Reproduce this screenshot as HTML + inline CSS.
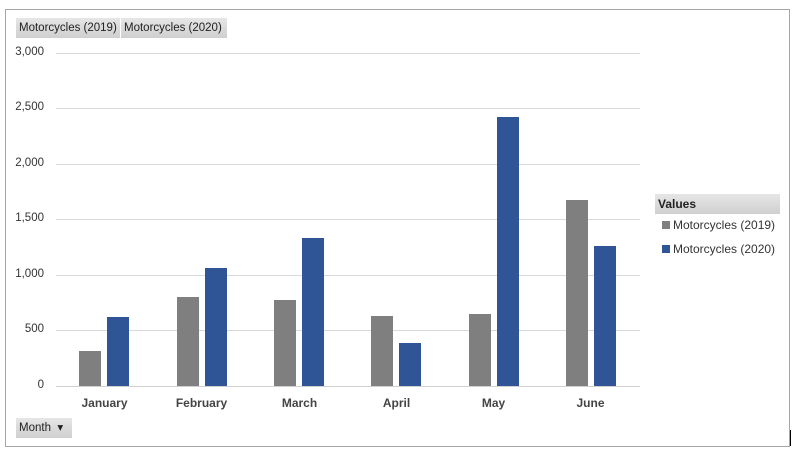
<!DOCTYPE html><html><head><style>
body{margin:0;background:#fff;width:800px;height:456px;position:relative;overflow:hidden;font-family:"Liberation Sans",sans-serif;}
.box{position:absolute;left:5px;top:9px;width:785px;height:438px;border:1px solid #a6a6a6;box-sizing:border-box;}
.btn{position:absolute;background:linear-gradient(#e6e6e6,#cfcfcf);font-size:11.5px;color:#222;height:20px;line-height:20px;padding:0 3px;box-sizing:border-box;white-space:nowrap;overflow:hidden;}
.yl{position:absolute;font-size:11.5px;color:#333;text-align:right;width:40px;left:4px;}
.g{position:absolute;left:56px;width:584px;height:1px;background:#d9d9d9;}
.b{position:absolute;width:22px;}
.c{position:absolute;top:396px;font-size:12px;font-weight:bold;color:#444;width:97px;text-align:center;}
</style></head><body>
<div class="box"></div>
<div class="btn" style="left:16px;top:18px;width:104px">Motorcycles (2019)</div>
<div class="btn" style="left:121px;top:18px;width:106px">Motorcycles (2020)</div>
<div class="yl" style="top:46px">3,000</div>
<div class="yl" style="top:101px">2,500</div>
<div class="yl" style="top:157px">2,000</div>
<div class="yl" style="top:212px">1,500</div>
<div class="yl" style="top:268px">1,000</div>
<div class="yl" style="top:323px">500</div>
<div class="yl" style="top:379px">0</div>
<div class="g" style="top:53px"></div><div class="g" style="top:108px"></div><div class="g" style="top:164px"></div>
<div class="g" style="top:219px"></div><div class="g" style="top:275px"></div><div class="g" style="top:330px"></div>
<div class="g" style="top:386px;background:#d0d0d0"></div>
<div class="b" style="left:79px;top:351px;height:35px;background:#7f7f7f"></div>
<div class="b" style="left:107px;top:317px;height:69px;background:#2f5597"></div>
<div class="b" style="left:177px;top:297px;height:89px;background:#7f7f7f"></div>
<div class="b" style="left:205px;top:268px;height:118px;background:#2f5597"></div>
<div class="b" style="left:274px;top:300px;height:86px;background:#7f7f7f"></div>
<div class="b" style="left:302px;top:238px;height:148px;background:#2f5597"></div>
<div class="b" style="left:371px;top:316px;height:70px;background:#7f7f7f"></div>
<div class="b" style="left:399px;top:343px;height:43px;background:#2f5597"></div>
<div class="b" style="left:469px;top:314px;height:72px;background:#7f7f7f"></div>
<div class="b" style="left:497px;top:117px;height:269px;background:#2f5597"></div>
<div class="b" style="left:566px;top:200px;height:186px;background:#7f7f7f"></div>
<div class="b" style="left:594px;top:246px;height:140px;background:#2f5597"></div>
<div class="c" style="left:56px">January</div><div class="c" style="left:153px">February</div>
<div class="c" style="left:251px">March</div><div class="c" style="left:348px">April</div>
<div class="c" style="left:445px">May</div><div class="c" style="left:542px">June</div>
<div class="btn" style="left:16px;top:418px;width:56px">Month &nbsp;▾</div>
<div class="btn" style="left:655px;top:194px;width:125px;font-weight:bold;font-size:12px">Values</div>
<div style="position:absolute;left:662px;top:221px;width:8px;height:8px;background:#7f7f7f"></div>
<div style="position:absolute;left:673px;top:218px;font-size:12px;color:#333">Motorcycles (2019)</div>
<div style="position:absolute;left:662px;top:245px;width:8px;height:8px;background:#2f5597"></div>
<div style="position:absolute;left:673px;top:242px;font-size:12px;color:#333">Motorcycles (2020)</div>
<div style="position:absolute;left:790px;top:430px;width:1px;height:16px;background:#000"></div>
</body></html>
